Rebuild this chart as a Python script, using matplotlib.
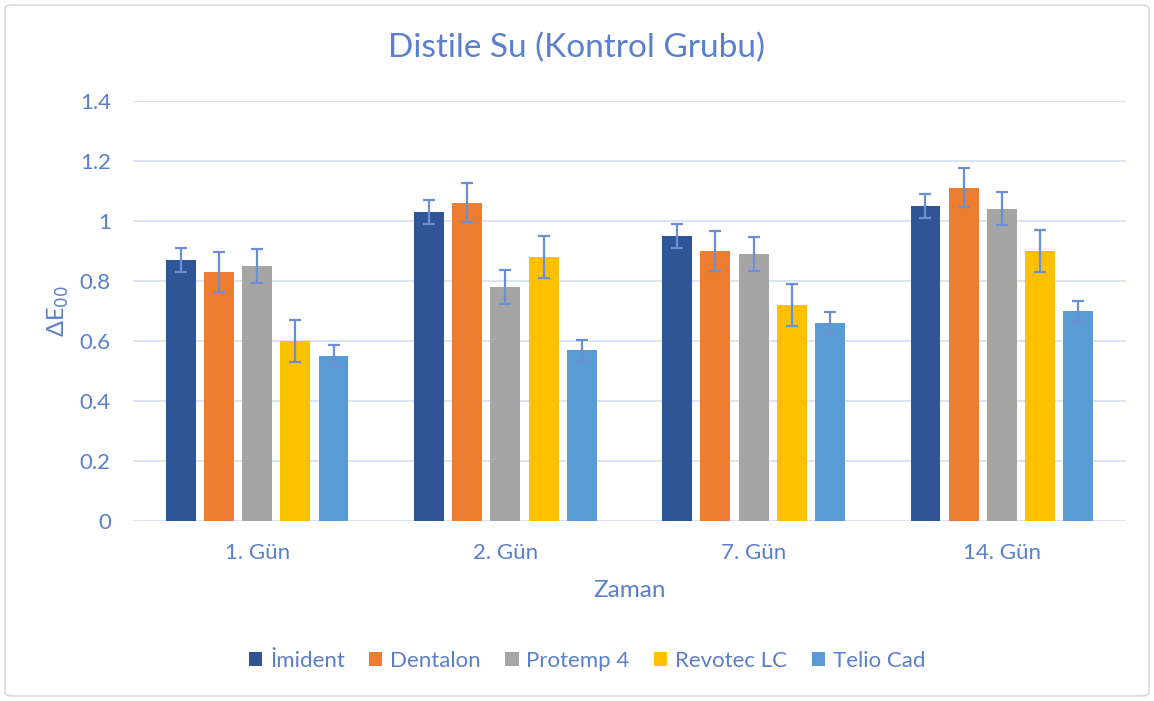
import numpy as np
import matplotlib
matplotlib.use("Agg")
import matplotlib.pyplot as plt
from matplotlib.patches import FancyBboxPatch

# --- Daten ---
gunler = ["1. Gün", "2. Gün", "7. Gün", "14. Gün"]
gruplar = ["İmident", "Dentalon", "Protemp 4", "Revotec LC", "Telio Cad"]

imident = [0.87, 1.03, 0.95, 1.05]
dentalon = [0.83, 1.06, 0.90, 1.11]
protemp = [0.85, 0.78, 0.89, 1.04]
revotec = [0.60, 0.88, 0.72, 0.90]
telio = [0.55, 0.57, 0.66, 0.70]

hata = [0.04, 0.065, 0.055, 0.07, 0.035]

renkler = ["#2F5597", "#ED7D31", "#A5A5A5", "#FFC000", "#5B9BD5"]
yazi_renk = "#5A7FCB"
izgara_renk = "#D9E1F2"
hata_renk = "#6A8FD4"

plt.rcParams["font.family"] = ["Lato", "DejaVu Sans"]

W, H = 1154, 701
fig = plt.figure(figsize=(W / 100, H / 100), dpi=100)
ax = fig.add_axes([133 / W, 1 - 521 / H, 993 / W, 420 / H])

# Rahmen um die ganze Grafik
rahmen = FancyBboxPatch((5 / W, 5 / H), 1144 / W, 691 / H,
                        boxstyle="round,pad=0,rounding_size=0.006",
                        transform=fig.transFigure, facecolor="none",
                        edgecolor="#D9D9D9", linewidth=1.2)
fig.patches.append(rahmen)

x = np.arange(len(gunler))
abstand = 0.154
breite = 0.12
serien = [imident, dentalon, protemp, revotec, telio]

for i, (werte, name) in enumerate(zip(serien, gruplar)):
    pos = x + (i - 2) * abstand
    ax.bar(pos, werte, breite, color=renkler[i], label=name, zorder=3)
    ax.errorbar(pos, werte, yerr=hata[i], fmt="none", ecolor=hata_renk,
                elinewidth=1.6, capsize=4.5, capthick=1.6, zorder=4)

ax.set_xlim(-0.5, 3.5)
ax.set_ylim(0, 1.4)
ax.set_yticks(np.arange(0, 1.41, 0.2))
ax.set_yticklabels(["0", "0.2", "0.4", "0.6", "0.8", "1", "1.2", "1.4"])
ax.set_xticks(x)
ax.set_xticklabels(gunler)

ax.grid(axis="y", color=izgara_renk, linewidth=1.3, zorder=0)
for s in ax.spines.values():
    s.set_visible(False)
ax.tick_params(length=0, colors=yazi_renk, labelsize=16)
ax.tick_params(axis="y", pad=16)
ax.tick_params(axis="x", pad=16)

fig.text(0.5, 1 - 48 / H, "Distile Su (Kontrol Grubu)", color=yazi_renk,
         fontsize=24, ha="center", va="center")
ax.set_xlabel("Zaman", color=yazi_renk, fontsize=17.5, labelpad=12)
ax.set_ylabel("ΔE$_{00}$", color=yazi_renk, fontsize=17, labelpad=6)

leg = fig.legend(loc="center", bbox_to_anchor=(587 / W, 1 - 661 / H), ncol=5,
                 frameon=False, fontsize=16, handlelength=0.6, handleheight=0.6,
                 handletextpad=0.35, columnspacing=1.1)
for t in leg.get_texts():
    t.set_color(yazi_renk)

fig.savefig("out.png", dpi=100)
